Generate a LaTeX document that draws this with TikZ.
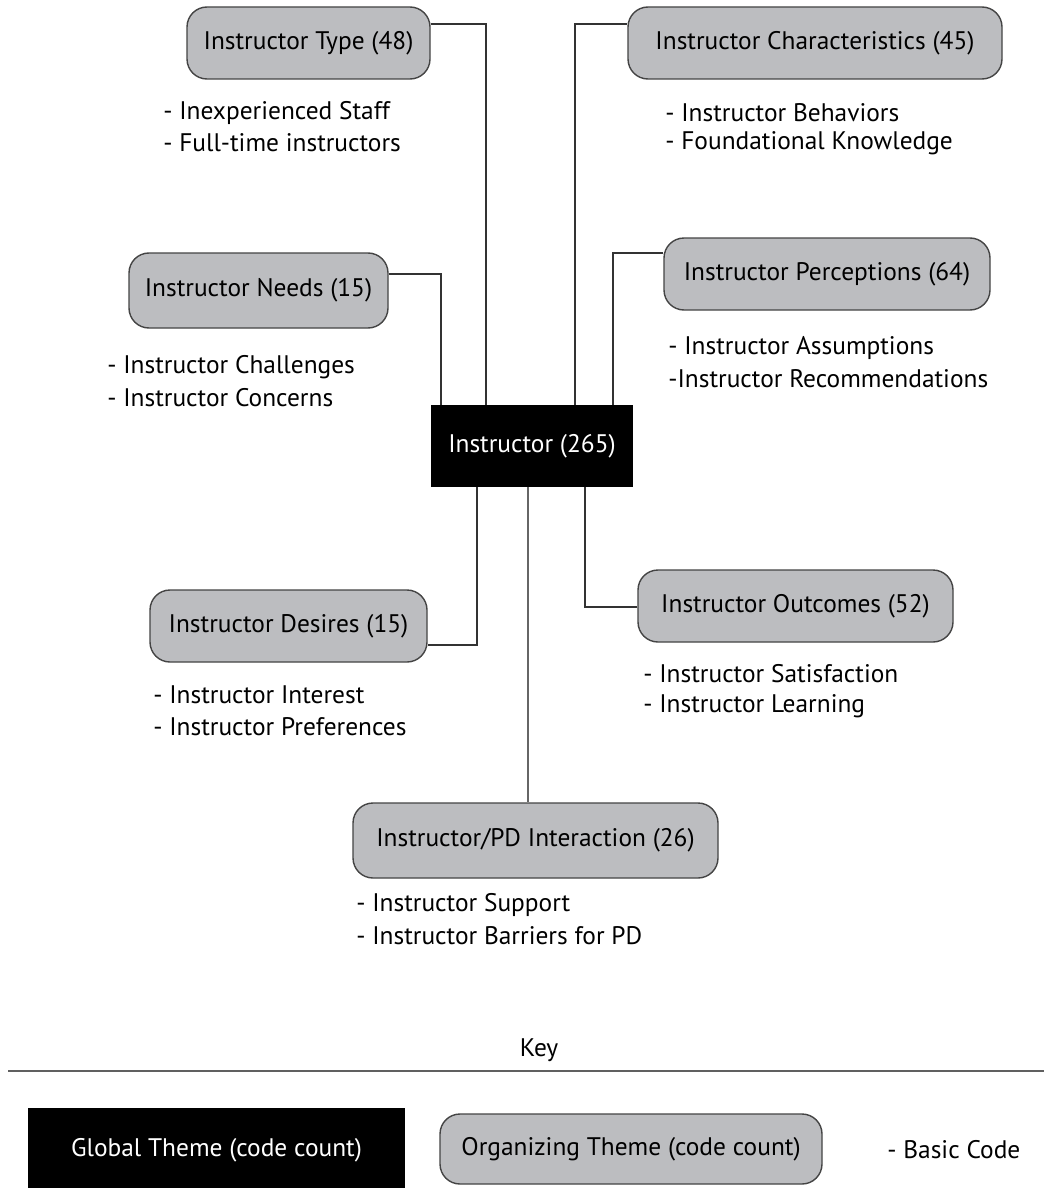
\documentclass[tikz,border=0pt]{standalone}
\usepackage{fontspec}
\setmainfont{PT Sans}
\definecolor{boxgray}{HTML}{BCBDC0}
\definecolor{edgegray}{HTML}{444444}
\definecolor{linegray}{HTML}{333333}
\begin{document}
\begin{tikzpicture}[x=0.5pt,y=-0.5pt,
  org/.style={draw=edgegray, line width=0.7pt, fill=boxgray, rounded corners=10pt, inner sep=0pt, font=\fontsize{12.7}{15}\selectfont},
  glob/.style={fill=black, text=white, inner sep=0pt, font=\fontsize{12.7}{15}\selectfont},
  code/.style={anchor=west, inner sep=0pt, align=left, font=\fontsize{12.7}{15}\selectfont},
  conn/.style={draw=linegray, line width=0.7pt},
]
\useasboundingbox (0,0) rectangle (1044,1188);
\fill[white] (0,0) rectangle (1044,1188);

% central global theme
\node[glob, minimum width=101pt, minimum height=41pt] (ctr) at (532,446) {Instructor (265)};

% organizing themes
\node[org, minimum width=121.5pt, minimum height=36pt] (type) at (308.5,43) {Instructor Type (48)};
\node[org, minimum width=187pt, minimum height=36pt] (char) at (815,43) {Instructor Characteristics (45)};
\node[org, minimum width=129.5pt, minimum height=37.5pt] (need) at (258.5,290.5) {Instructor Needs (15)};
\node[org, minimum width=163pt, minimum height=36pt] (perc) at (827,274) {Instructor Perceptions (64)};
\node[org, minimum width=138.5pt, minimum height=36pt] (desi) at (288.5,626) {Instructor Desires (15)};
\node[org, minimum width=157.5pt, minimum height=36pt] (outc) at (795.5,606) {Instructor Outcomes (52)};
\node[org, minimum width=182.5pt, minimum height=37.5pt] (intr) at (535.5,840.5) {Instructor/PD Interaction (26)};

% basic codes
\node[code] (t1) at (163,113) {- Inexperienced Staff};
\node[code] (t2) at (163,143) {- Full-time instructors};
\node[code] (c1) at (665,113) {- Instructor Behaviors};
\node[code] (c2) at (665,143) {- Foundational Knowledge};
\node[code] (n1) at (107,367) {- Instructor Challenges};
\node[code] (n2) at (107,398) {- Instructor Concerns};
\node[code] (p1) at (668,348) {- Instructor Assumptions};
\node[code] (p2) at (668,379) {-Instructor Recommendations};
\node[code] (d1) at (153,695) {- Instructor Interest};
\node[code] (d2) at (153,727) {- Instructor Preferences};
\node[code] (o1) at (643,674) {- Instructor Satisfaction};
\node[code] (o2) at (643,706) {- Instructor Learning};
\node[code] (i1) at (356,905) {- Instructor Support};
\node[code] (i2) at (356,936) {- Instructor Barriers for PD};

% connector bend points
\coordinate (bT) at (486,24);
\coordinate (bC) at (575,24);
\coordinate (bN) at (441,274);
\coordinate (bP) at (613,253);
\coordinate (bD) at (477,645);
\coordinate (bO) at (585,607);
\coordinate (bI) at (528,600);

\draw[conn] (type.east |- bT) -| (ctr.north -| bT);
\draw[conn] (char.west |- bC) -| (ctr.north -| bC);
\draw[conn] (need.east |- bN) -| (ctr.north -| bN);
\draw[conn] (perc.west |- bP) -| (ctr.north -| bP);
\draw[conn] (desi.east |- bD) -| (ctr.south -| bD);
\draw[conn] (outc.west |- bO) -| (ctr.south -| bO);
\draw[draw=gray!80!black, line width=1pt] (ctr.south -| bI) -- (intr.north -| bI);

% key
\node[font=\fontsize{12.7}{15}\selectfont] (key) at (539,1050) {Key};
\coordinate (kl) at (8,1071);
\coordinate (kr) at (1044,1071);
\draw[draw=gray!75!black, line width=1pt] (kl) -- (kr);
\node[glob, minimum width=188.5pt, minimum height=42pt] (kglob) at (216.5,1150) {Global Theme (code count)};
\node[org, minimum width=191pt, minimum height=35pt] (korg) at (631,1149) {Organizing Theme (code count)};
\node[code] (kcode) at (887,1150) {- Basic Code};
\end{tikzpicture}
\end{document}
